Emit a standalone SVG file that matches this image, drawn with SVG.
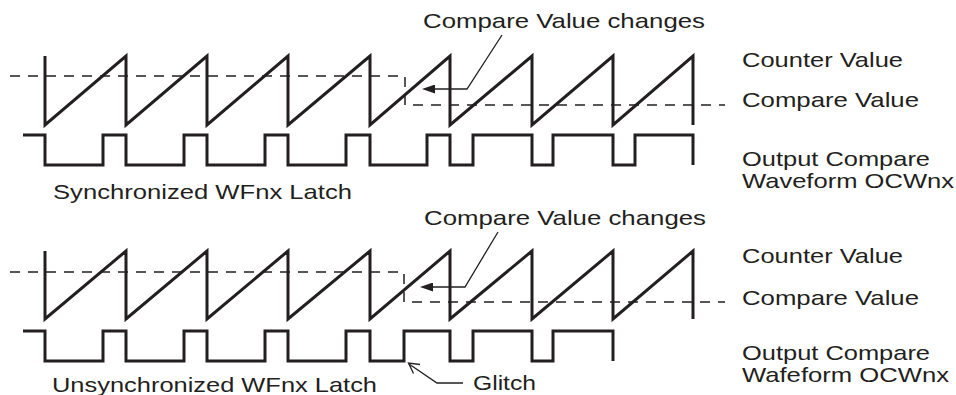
<svg xmlns="http://www.w3.org/2000/svg" width="956" height="395" viewBox="0 0 956 395">
<style>
  .wave { fill: none; stroke: #231f20; stroke-width: 3; stroke-linejoin: miter; stroke-linecap: butt; }
  .dash { fill: none; stroke: #231f20; stroke-width: 1.5; stroke-dasharray: 10 8; }
  .lead { fill: none; stroke: #231f20; stroke-width: 1.3; }
  .lbl { font-family: "Liberation Sans", Arial, sans-serif; font-size: 21px; fill: #231f20; }
</style>
<defs>
  <marker id="tri" viewBox="0 0 13 9" refX="0" refY="4.5" markerWidth="13" markerHeight="9" markerUnits="userSpaceOnUse" orient="auto">
    <path d="M13,4.5 L0,0 L0,9 Z" fill="#231f20"/>
  </marker>
</defs>
<rect width="956" height="395" fill="#ffffff"/>

<g id="sync-panel">
  <path class="dash" d="M10,76 H405 V105 H725"/>
  <path class="wave" d="M45,56 L45,125 L126,56 L126,125 L207,56 L207,125 L288,56 L288,125 L370,56 L370,125 L450,56 L450,125 L532,56 L532,125 L613,56 L613,125 L693,56 L693,125"/>
  <path class="wave" d="M23,135 H45 V165 H103 V135 H126 V165 H184 V135 H207 V165 H265 V135 H288 V165 H346 V135 H370 V165 H427 V135 H450 V165 H473 V135 H532 V165 H553 V135 H613 V165 H635 V135 H693 V165"/>
  <text class="lbl" x="53" y="199" textLength="299" lengthAdjust="spacingAndGlyphs">Synchronized WFnx Latch</text>
</g>

<g id="sync-labels">
  <text class="lbl" x="423" y="28" textLength="282" lengthAdjust="spacingAndGlyphs">Compare Value changes</text>
  <text class="lbl" x="742" y="67" textLength="161" lengthAdjust="spacingAndGlyphs">Counter Value</text>
  <text class="lbl" x="742" y="107" textLength="177" lengthAdjust="spacingAndGlyphs">Compare Value</text>
  <text class="lbl" x="742" y="166" textLength="188" lengthAdjust="spacingAndGlyphs">Output Compare</text>
  <text class="lbl" x="742" y="188" textLength="212" lengthAdjust="spacingAndGlyphs">Waveform OCWnx</text>
</g>

<g id="unsync-panel">
  <path class="dash" d="M10,272 H404 V302 H725"/>
  <path class="wave" d="M45,251 L45,319 L126,251 L126,319 L207,251 L207,319 L288,251 L288,319 L370,251 L370,319 L450,251 L450,319 L532,251 L532,319 L613,251 L613,319 L693,251 L693,319"/>
  <path class="wave" d="M23,331 H45 V361 H103 V331 H126 V361 H184 V331 H207 V361 H265 V331 H288 V361 H346 V331 H370 V361 H404 V331 H450 V361 H473 V331 H532 V361 H553 V331 H613 V361"/>
  <text class="lbl" x="52" y="392" textLength="325" lengthAdjust="spacingAndGlyphs">Unsynchronized WFnx Latch</text>
</g>

<g id="unsync-labels">
  <text class="lbl" x="424" y="225" textLength="282" lengthAdjust="spacingAndGlyphs">Compare Value changes</text>
  <text class="lbl" x="742" y="263" textLength="161" lengthAdjust="spacingAndGlyphs">Counter Value</text>
  <text class="lbl" x="742" y="305" textLength="177" lengthAdjust="spacingAndGlyphs">Compare Value</text>
  <text class="lbl" x="742" y="360" textLength="188" lengthAdjust="spacingAndGlyphs">Output Compare</text>
  <text class="lbl" x="742" y="382" textLength="207" lengthAdjust="spacingAndGlyphs">Wafeform OCWnx</text>
  <text class="lbl" x="473" y="390" textLength="63" lengthAdjust="spacingAndGlyphs">Glitch</text>
</g>

<g id="connectors">
  <path class="lead" d="M502,35 L467,89 H435" marker-end="url(#tri)"/>
  <path class="lead" d="M498,232 L465,287 H433" marker-end="url(#tri)"/>
  <path class="lead" d="M463,383 H437 L409,364"/>
  <path class="lead" d="M420,364.5 L408.5,363 L413.5,373.5" stroke-width="1.6"/>
</g>
</svg>
